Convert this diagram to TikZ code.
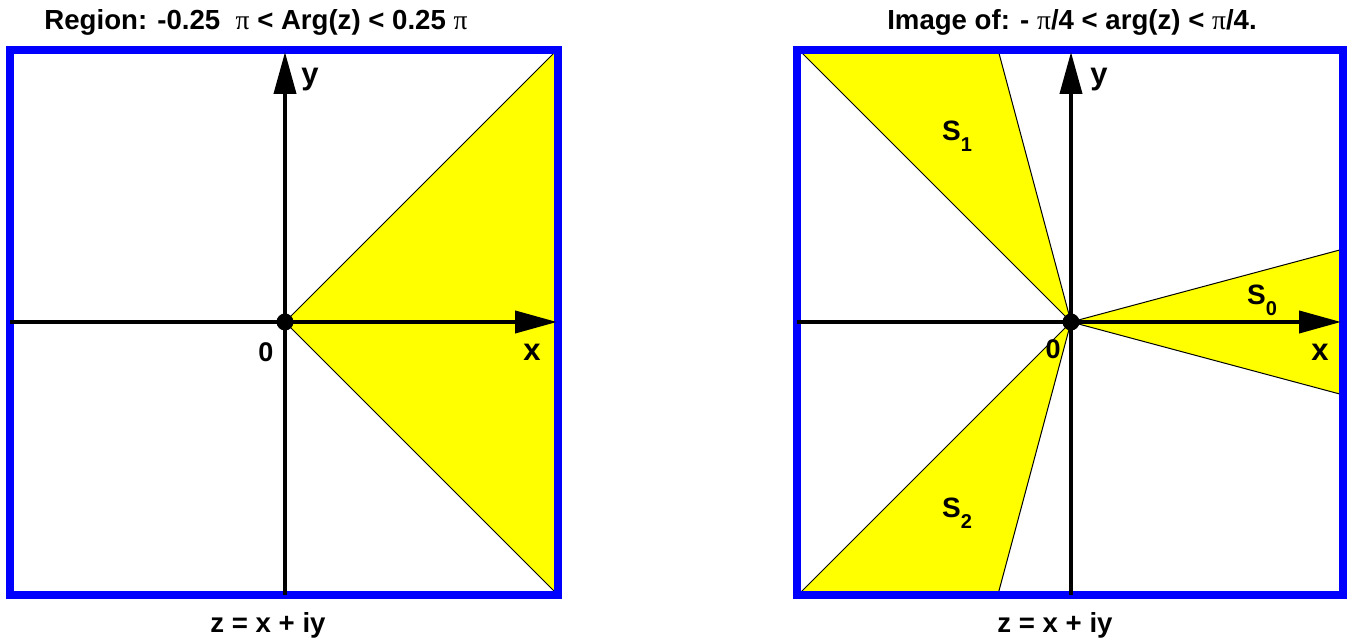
\documentclass[tikz,border=0pt]{standalone}
\usepackage{fontspec}
\setmainfont{Liberation Sans}
\newfontfamily\pifont{Liberation Serif}
\usetikzlibrary{arrows.meta}

\definecolor{frameblue}{RGB}{0,0,255}
\definecolor{sectyellow}{RGB}{255,255,0}

\newcommand{\gpi}{{\pifont\mdseries π}}
\newcommand{\sublbl}[2]{#1\raisebox{-0.75ex}{\fontsize{10}{11}\selectfont #2}}

\tikzset{
  frame/.style={draw=frameblue, line width=4pt},
  axis/.style={line width=2pt, -{Triangle[length=21pt,width=11pt]}},
  sector/.style={fill=sectyellow, draw=black, line width=0.5pt},
  title/.style={font=\bfseries\fontsize{13.8}{16}\selectfont, inner sep=0pt},
  axlbl/.style={font=\bfseries\fontsize{15.5}{17}\selectfont, inner sep=0pt},
  zerolbl/.style={font=\bfseries\fontsize{13.5}{15}\selectfont, inner sep=0pt},
  slbl/.style={font=\bfseries\fontsize{14}{16}\selectfont, inner sep=0pt}
}

\begin{document}
\begin{tikzpicture}[x=0.5pt,y=0.5pt]
    \useasboundingbox (0,0) rectangle (1351,642);

    % Left panel: the region
    \begin{scope}[shift={(285,320)}]
        \coordinate (lO) at (0,0);
        \coordinate (lW) at (-275,0);
        \coordinate (lE) at (272,0);
        \coordinate (lS) at (0,-273);
        \coordinate (lN) at (0,270);
        \begin{scope}
            \clip (-275,-273) rectangle (273,272);
            \draw[sector] (lO) -- (350,350) -- (350,-350) -- cycle;
        \end{scope}
        \draw[frame] (-275,-273) rectangle (273,272);
        \draw[axis] (lW) -- (lE);
        \draw[axis] (lS) -- (lN);
        \fill (lO) circle (8.5);
        \node[axlbl] (lx) at (247,-30) {x};
        \node[axlbl] (ly) at (25,242) {y};
        \node[zerolbl] (l0) at (-19,-30) {0};
    \end{scope}
    \node[title] (ltitle) at (256,620) {Region: -0.25\ \ \gpi\ < Arg(z) < 0.25 \gpi};
    \node[title] (lz) at (268,17) {z = x + iy};

    % Right panel: the image
    \begin{scope}[shift={(1071,320)}]
        \coordinate (rO) at (0,0);
        \coordinate (rW) at (-274,0);
        \coordinate (rE) at (270,0);
        \coordinate (rS) at (0,-273);
        \coordinate (rN) at (0,270);
        \begin{scope}
            \clip (-274,-273) rectangle (272,272);
            \draw[sector] (rO) -- (15:500) -- (-15:500) -- cycle;
            \draw[sector] (rO) -- (105:500) -- (135:500) -- cycle;
            \draw[sector] (rO) -- (-105:500) -- (-135:500) -- cycle;
        \end{scope}
        \draw[frame] (-274,-273) rectangle (272,272);
        \draw[axis] (rW) -- (rE);
        \draw[axis] (rS) -- (rN);
        \fill (rO) circle (8.5);
        \node[axlbl] (rx) at (249,-30) {x};
        \node[axlbl] (ry) at (28,242) {y};
        \node[zerolbl] (r0) at (-18,-27) {0};
        \node[slbl] (s0) at (191,22) {\sublbl{S}{0}};
        \node[slbl] (s1) at (-114,186) {\sublbl{S}{1}};
        \node[slbl] (s2) at (-114,-191) {\sublbl{S}{2}};
    \end{scope}
    \node[title] (rtitle) at (1072,620) {Image of: - \gpi/4 < arg(z) < \gpi/4.};
    \node[title] (rz) at (1055,17) {z = x + iy};
\end{tikzpicture}
\end{document}
